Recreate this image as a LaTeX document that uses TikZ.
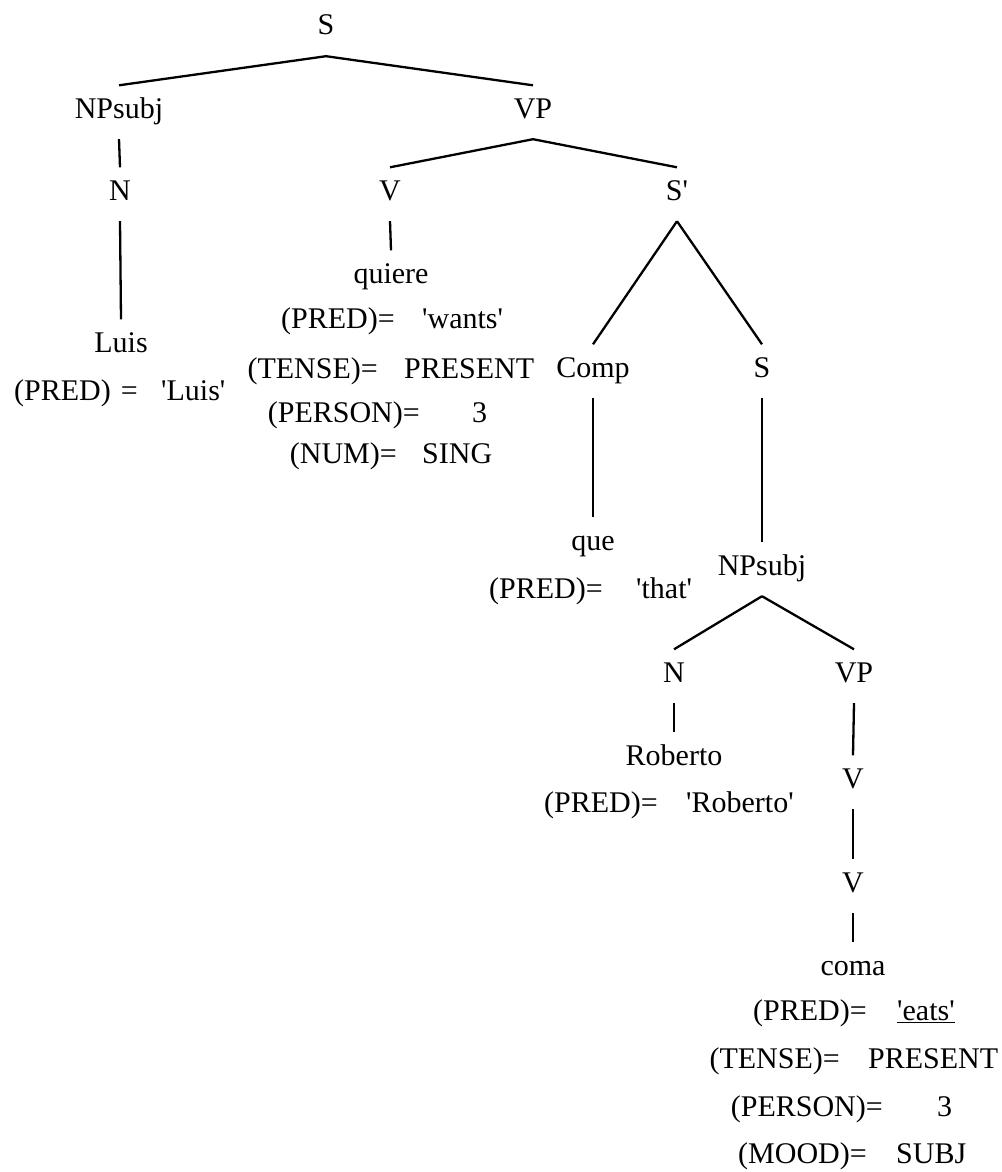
\documentclass[tikz,border=0pt]{standalone}
\usepackage{fontspec}
\setmainfont{Liberation Serif}[Ligatures=TeXOff]
\begin{document}
\begin{tikzpicture}[x=1pt,y=-1pt,
  cat/.style={font=\fontsize{30}{36}\selectfont, inner xsep=0pt, inner ysep=12.5pt,
              text height=20pt, text depth=8.5pt, anchor=base},
  attr/.style={font=\fontsize{30}{36}\selectfont, inner sep=0pt, anchor=base east},
  val/.style={font=\fontsize{30}{36}\selectfont, inner sep=0pt, anchor=base west},
  branch/.style={line width=2.3pt}]
\useasboundingbox (0,0) rectangle (1001,1172);

% categories and words
\node[cat] (s)      at (326,35)  {S};
\node[cat] (npsubj) at (119,118) {NPsubj};
\node[cat] (vp)     at (533,118) {VP};
\node[cat] (n)      at (120,200) {N};
\node[cat] (v)      at (390,200) {V};
\node[cat] (sbar)   at (677,200) {S'};
\node[cat] (luis)   at (121,352) {Luis};
\node[cat] (quiere) at (391,283) {quiere};
\node[cat] (comp)   at (593,377) {Comp};
\node[cat] (s2)     at (762,377) {S};
\node[cat] (que)    at (593,550) {que};
\node[cat] (np2)    at (762,575) {NPsubj};
\node[cat] (n2)     at (674,682) {N};
\node[cat] (vp2)    at (854,682) {VP};
\node[cat] (roberto) at (674,765) {Roberto};
\node[cat] (v3)     at (853,788) {V};
\node[cat] (v4)     at (853,892) {V};
\node[cat] (coma)   at (853,975) {coma};

% branches
\draw[branch] (s.south) -- (npsubj.north);
\draw[branch] (s.south) -- (vp.north);
\draw[branch] (npsubj.south) -- (n.north);
\draw[branch] (n.south) -- (luis.north);
\draw[branch] (vp.south) -- (v.north);
\draw[branch] (vp.south) -- (sbar.north);
\draw[branch] (v.south) -- (quiere.north);
\draw[branch] (sbar.south) -- (comp.north);
\draw[branch] (sbar.south) -- (s2.north);
\draw[branch] (comp.south) -- (que.north);
\draw[branch] (s2.south) -- (np2.north);
\draw[branch] (np2.south) -- (n2.north);
\draw[branch] (np2.south) -- (vp2.north);
\draw[branch] (n2.south) -- (roberto.north);
\draw[branch] (vp2.south) -- (v3.north);
\draw[branch] (v3.south) -- (v4.north);
\draw[branch] (v4.south) -- (coma.north);

% feature equations: Luis
\node[attr] (luisA) at (138,400) {(PRED)\hspace{10pt}=};
\node[val]  (luisB) at (161,400) {'Luis'};

% feature equations: quiere
\node[attr] (qA1) at (395,328) {(PRED)=};
\node[val]  (qB1) at (422,328) {'wants'};
\node[attr] (qA2) at (378,378) {(TENSE)=};
\node[val]  (qB2) at (404,378) {PRESENT};
\node[attr] (qA3) at (420,422) {(PERSON)=};
\node[val]  (qB3) at (472,422) {3};
\node[attr] (qA4) at (397,463) {(NUM)=};
\node[val]  (qB4) at (422,463) {SING};

% feature equations: que
\node[attr] (queA) at (603,598) {(PRED)=};
\node[val]  (queB) at (636,598) {'that'};

% feature equations: Roberto
\node[attr] (robA) at (658,812) {(PRED)=};
\node[val]  (robB) at (686,812) {'Roberto'};

% feature equations: coma
\node[attr] (cA1) at (867,1020) {(PRED)=};
\node[val]  (cB1) at (897,1020) {\underline{'eats'}};
\node[attr] (cA2) at (840,1068) {(TENSE)=};
\node[val]  (cB2) at (868,1068) {PRESENT};
\node[attr] (cA3) at (883,1116) {(PERSON)=};
\node[val]  (cB3) at (937,1116) {3};
\node[attr] (cA4) at (867,1163) {(MOOD)=};
\node[val]  (cB4) at (896,1163) {SUBJ};
\end{tikzpicture}
\end{document}
